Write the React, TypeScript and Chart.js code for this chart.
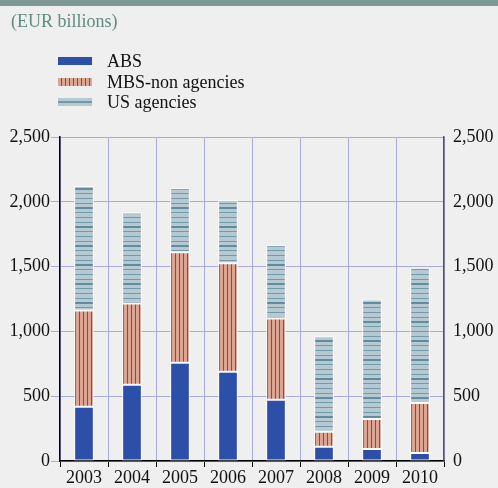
import React, { useEffect, useRef } from "react";
import { Chart, registerables } from "chart.js";

Chart.register(...registerables);

const years = ["2003", "2004", "2005", "2006", "2007", "2008", "2009", "2010"];
const absValues = [418, 588, 758, 689, 472, 110, 93, 62];
const mbsValues = [743, 627, 852, 836, 627, 116, 232, 385];
const usValues = [960, 705, 495, 487, 565, 736, 921, 1045];
const yTicks = [0, 500, 1000, 1500, 2000, 2500];

const SERIF = "'Liberation Serif', 'Times New Roman', serif";
const GRID = "#a9abe0";

function makeMbsPattern(): CanvasPattern | string {
  const c = document.createElement("canvas");
  c.width = 4;
  c.height = 4;
  const ctx = c.getContext("2d");
  if (!ctx) return "#d9a08c";
  ctx.fillStyle = "#dba493";
  ctx.fillRect(0, 0, 4, 4);
  ctx.fillStyle = "#b6392b";
  ctx.fillRect(3, 0, 1, 4);
  return ctx.createPattern(c, "repeat") || "#d9a08c";
}

function makeUsPattern(): CanvasPattern | string {
  const c = document.createElement("canvas");
  c.width = 4;
  c.height = 19;
  const ctx = c.getContext("2d");
  if (!ctx) return "#b5c8d1";
  ctx.fillStyle = "#b6c8d0";
  ctx.fillRect(0, 0, 4, 19);
  ctx.fillStyle = "#6f9aaa";
  ctx.fillRect(0, 3, 4, 1);
  ctx.fillRect(0, 8, 4, 1);
  ctx.fillRect(0, 13, 4, 1);
  ctx.fillStyle = "#5f8d9f";
  ctx.fillRect(0, 17, 4, 2);
  return ctx.createPattern(c, "repeat") || "#b5c8d1";
}

export default function App() {
  const ref = useRef<HTMLCanvasElement | null>(null);

  useEffect(() => {
    if (!ref.current) return;
    const chart = new Chart(ref.current, {
      type: "bar",
      data: {
        labels: years,
        datasets: [
          {
            label: "ABS",
            data: absValues,
            backgroundColor: "#2c4fa9",
            borderColor: "#ffffff",
            borderWidth: 1,
            borderSkipped: false,
            yAxisID: "y",
          },
          {
            label: "MBS-non agencies",
            data: mbsValues,
            backgroundColor: makeMbsPattern(),
            borderColor: "#ffffff",
            borderWidth: 1,
            borderSkipped: false,
            yAxisID: "y",
          },
          {
            label: "US agencies",
            data: usValues,
            backgroundColor: makeUsPattern(),
            borderColor: "#ffffff",
            borderWidth: 1,
            borderSkipped: false,
            yAxisID: "y",
          },
        ],
      },
      options: {
        animation: false,
        responsive: false,
        maintainAspectRatio: false,
        layout: { padding: { top: 137, left: 0, right: 0, bottom: 0 } },
        datasets: { bar: { categoryPercentage: 1, barPercentage: 0.41 } },
        plugins: { legend: { display: false }, tooltip: { enabled: false } },
        scales: {
          x: {
            stacked: true,
            offset: true,
            grid: {
              display: true,
              offset: true,
              color: GRID,
              tickColor: "#000000",
              tickLength: 6,
              lineWidth: 1,
            },
            border: { display: true, color: "#000000", width: 1.5 },
            ticks: {
              color: "#111111",
              font: { family: SERIF, size: 18 },
              padding: 0,
              maxRotation: 0,
            },
            afterFit: (s: any) => {
              s.height = 27;
            },
          },
          y: {
            stacked: true,
            position: "left",
            min: 0,
            max: 2500,
            afterBuildTicks: (s: any) => {
              s.ticks = yTicks.map((v) => ({ value: v }));
            },
            grid: { color: GRID, tickColor: GRID, tickLength: 9, lineWidth: 1 },
            border: { display: true, color: "#000000", width: 1.5 },
            ticks: {
              color: "#111111",
              font: { family: SERIF, size: 18 },
              padding: 1,
              callback: (v: any) => Number(v).toLocaleString("en-US"),
            },
            afterFit: (s: any) => {
              s.width = 60;
            },
          },
          y2: {
            position: "right",
            min: 0,
            max: 2500,
            afterBuildTicks: (s: any) => {
              s.ticks = yTicks.map((v) => ({ value: v }));
            },
            grid: { display: false, drawOnChartArea: false },
            border: { display: true, color: "#555555", width: 1.5 },
            ticks: {
              color: "#111111",
              font: { family: SERIF, size: 18 },
              padding: 1,
              callback: (v: any) => Number(v).toLocaleString("en-US"),
            },
            afterFit: (s: any) => {
              s.width = 54;
            },
          },
        },
      },
    });
    return () => chart.destroy();
  }, []);

  const legendItem = (label: string, bg: string, top: number) => (
    <div style={{ position: "absolute", left: 58, top: top, height: 20, display: "flex", alignItems: "center" }}>
      <div style={{ width: 34, height: 8, background: bg }} />
      <span style={{ marginLeft: 15, fontFamily: SERIF, fontSize: 18, lineHeight: "20px", color: "#111" }}>{label}</span>
    </div>
  );

  return (
    <div style={{ position: "absolute", left: 0, top: 0, width: 498, height: 488, background: "#efefef", overflow: "hidden" }}>
      <div style={{ position: "absolute", left: 0, top: 0, width: 498, height: 6, background: "#7f9a94" }} />
      <canvas ref={ref} width={498} height={488} style={{ position: "absolute", left: 0, top: 0, width: 498, height: 488 }} />
      <div style={{ position: "absolute", left: 11, top: 10, fontFamily: SERIF, fontSize: 18, lineHeight: "22px", color: "#5f8c80" }}>(EUR billions)</div>
      {legendItem("ABS", "#2c4fa9", 51)}
      {legendItem("MBS-non agencies", "repeating-linear-gradient(90deg, #dba493 0px, #dba493 3px, #b6392b 3px, #b6392b 4px)", 72)}
      {legendItem("US agencies", "linear-gradient(to bottom, #b6c8d0 0px, #b6c8d0 3px, #6f9aaa 3px, #6f9aaa 5px, #b6c8d0 5px)", 92)}
    </div>
  );
}
